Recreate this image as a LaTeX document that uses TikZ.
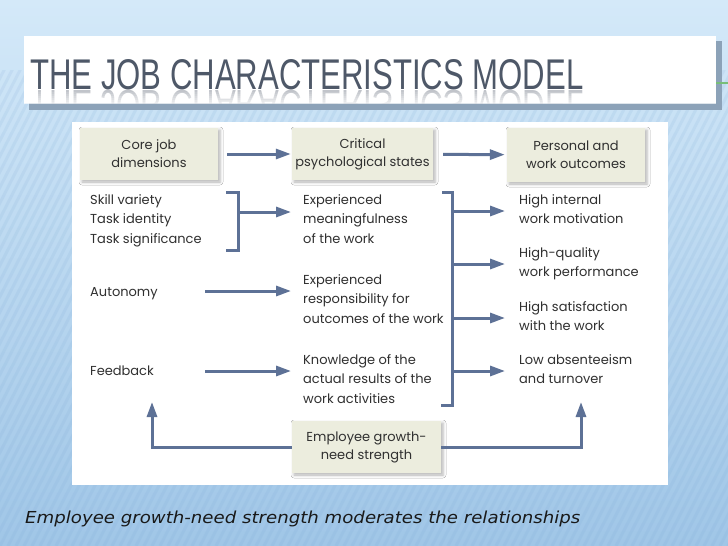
\documentclass[tikz,border=0pt]{standalone}
\usepackage{fontspec}
\setmainfont{Poppins}
\newfontfamily\capfont{DejaVu Sans}
\newfontfamily\titlefont{Liberation Sans}
\usetikzlibrary{arrows.meta,shadows.blur}
\definecolor{bgtop}{RGB}{212,233,249}
\definecolor{bgbot}{RGB}{160,198,231}
\definecolor{stripec}{RGB}{120,165,210}
\definecolor{arrc}{RGB}{93,113,150}
\definecolor{boxc}{RGB}{236,237,222}
\definecolor{textc}{RGB}{48,48,48}
\definecolor{titlec}{RGB}{78,88,104}
\definecolor{tshadow}{RGB}{140,162,184}
\definecolor{greenl}{RGB}{120,190,120}
\begin{document}
\begin{tikzpicture}[x=1pt,y=-1pt,
  jbox/.style={fill=boxc, inner sep=0pt, align=center, text=textc,
    font=\fontsize{13}{18}\selectfont,
    blur shadow={shadow xshift=2pt, shadow yshift=-2pt, shadow blur radius=3pt, shadow opacity=30}},
  tblock/.style={anchor=base west, inner sep=0pt, align=left, text=textc,
    font=\fontsize{13}{19.5}\selectfont},
  conn/.style={draw=arrc, line width=3pt},
  arr/.style={conn, -{Triangle[length=15pt,width=10pt]}}]
\useasboundingbox (0,0) rectangle (728,546);
% background
\shade[top color=bgtop, bottom color=bgbot] (0,0) rectangle (728,546);
\begin{scope}
  \clip (0,70) rectangle (728,546);
  \foreach \i in {-40,...,95}
    \draw[stripec, opacity=0.13, line width=3pt] (\i*8,546) -- ++(280,-546);
\end{scope}
% title bar
\fill[tshadow] (29,41) rectangle (722,110);
\fill[white] (24,36) rectangle (716,103);
\draw[greenl, line width=1.5pt] (716,83) -- (728,83);
\node[anchor=base west, inner sep=0pt, text=titlec] (title) at (30,89)
  {\resizebox{553pt}{30pt}{\titlefont THE JOB CHARACTERISTICS MODEL}};
\begin{scope}
  \clip (24,36) rectangle (716,103);
  \node[anchor=north west, inner sep=0pt, text=titlec, opacity=0.35] (refl) at (30,90)
    {\scalebox{1}[-1]{\resizebox{553pt}{30pt}{\titlefont THE JOB CHARACTERISTICS MODEL}}};
  \foreach \k in {0,...,6}
    \fill[white, opacity=0.12*\k] (24,90+2*\k) rectangle (716,92+2*\k);
\end{scope}
% panel
\fill[white] (72,122) rectangle (668,485);
% boxes
\node[jbox, minimum width=138pt, minimum height=52pt] (core) at (149,154) {Core job\\dimensions};
\node[jbox, minimum width=141pt, minimum height=52pt] (crit) at (362.5,154) {Critical\\psychological states};
\node[jbox, minimum width=138pt, minimum height=54pt] (pers) at (576,155) {Personal and\\work outcomes};
\node[jbox, minimum width=149pt, minimum height=52pt] (grow) at (366.5,447) {Employee growth-\\need strength};
% text blocks (base = baseline of last line)
\node[tblock] (c1) at (90,243) {Skill variety\\Task identity\\Task significance};
\node[tblock] (auto) at (90,296) {Autonomy};
\node[tblock] (feed) at (90,375) {Feedback};
\node[tblock] (s1) at (303,243) {Experienced\\meaningfulness\\of the work};
\node[tblock] (s2) at (303,323) {Experienced\\responsibility for\\outcomes of the work};
\node[tblock] (s3) at (303,403) {Knowledge of the\\actual results of the\\work activities};
\node[tblock] (o1) at (519,223.5) {High internal\\work motivation};
\node[tblock] (o2) at (519,276.5) {High-quality\\work performance};
\node[tblock] (o3) at (519,330.5) {High satisfaction\\with the work};
\node[tblock] (o4) at (519,383.5) {Low absenteeism\\and turnover};
% header arrows
\draw[arr, shorten <=9pt, shorten >=1pt] (core) -- (crit);
\draw[arr, shorten <=10pt, shorten >=2pt] (crit) -- (pers);
% bracket 1
\coordinate (b1a) at (226,192);
\coordinate (b1b) at (226,250);
\coordinate (b1m) at (238,212);
\coordinate (b1t) at (291,212);
\draw[conn] (b1a) -| (b1m |- b1b) -- (b1b);
\draw[arr] (b1m) -- (b1t);
% autonomy, feedback
\coordinate (a1) at (205,291);
\coordinate (a2) at (291,291);
\coordinate (f1) at (205,371);
\coordinate (f2) at (291,371);
\draw[arr] (a1) -- (a2);
\draw[arr] (f1) -- (f2);
% bracket 2
\coordinate (b2a) at (442,192);
\coordinate (b2b) at (441,405);
\coordinate (b2x) at (452,300);
\draw[conn] (b2a) -| (b2x |- b2b) -- (b2b);
\foreach \yy/\nm in {211/p1,264/p2,318/p3,371/p4}{
  \coordinate (\nm s) at (452,\yy);
  \coordinate (\nm e) at (505,\yy);
  \draw[arr] (\nm s) -- (\nm e);
}
% moderator arrows
\coordinate (uL) at (152,402);
\coordinate (uR) at (581,402);
\draw[arr] (grow.west) -| (uL);
\draw[arr] (grow.east) -| (uR);
% caption
\node[anchor=base west, inner sep=0pt, text=black!90,
  font=\capfont\itshape\fontsize{16.5}{18}\selectfont] (cap) at (25,523)
  {\scalebox{1.1}[1]{Employee growth-need strength moderates the relationships}};
\end{tikzpicture}
\end{document}
